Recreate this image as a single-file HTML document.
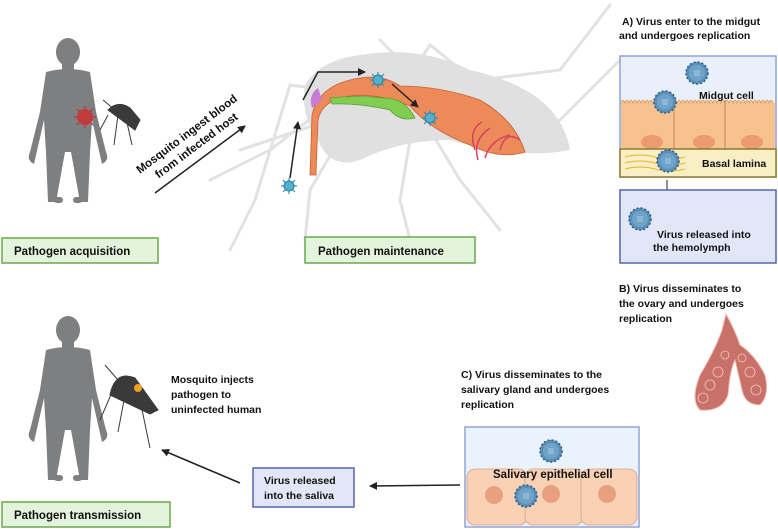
<!DOCTYPE html>
<html><head><meta charset="utf-8"><style>
html,body{margin:0;padding:0;background:#fff;}
svg{display:block;font-family:"Liberation Sans",Arial,sans-serif;font-weight:bold;}
</style></head><body>
<svg width="778" height="529" viewBox="0 0 778 529" xmlns="http://www.w3.org/2000/svg">
<defs>
<marker id="ah" markerWidth="8" markerHeight="8" refX="7" refY="4" orient="auto" markerUnits="userSpaceOnUse"><path d="M0,0 L8,4 L0,8 Z" fill="#222"/></marker>
<g id="human" fill="#7d7f80">
 <ellipse cx="0" cy="0" rx="12" ry="14"/>
 <rect x="-6" y="10" width="12" height="10"/>
 <path d="M-22,20 Q0,14 22,20 L28,60 L38,100 Q42,108 34,112 L24,68 L22,100 L20,150 L12,150 L3,100 L-3,100 L-12,150 L-20,150 L-22,100 L-24,68 L-34,112 Q-42,108 -38,100 L-28,60 Z"/>
 <rect x="-14" y="145" width="9" height="6" rx="3"/><rect x="5" y="145" width="9" height="6" rx="3"/>
</g>
<g id="vir">
 <g stroke="#3a8fb0" stroke-width="1.2">
  <line x1="-8" y1="0" x2="8" y2="0"/><line x1="0" y1="-8" x2="0" y2="8"/>
  <line x1="-6" y1="-6" x2="6" y2="6"/><line x1="-6" y1="6" x2="6" y2="-6"/>
 </g>
 <circle r="5" fill="#4fb3cf" stroke="#2e7fa0"/>
</g>
<g id="vir2">
 <circle r="11" fill="#5a8fb8" stroke="#2d5c86" stroke-width="1.5" stroke-dasharray="2 2"/>
 <circle r="8" fill="#6fa3c8"/>
 <rect x="-3" y="-3" width="6" height="6" fill="#8db7d8"/>
</g>
</defs>

<!-- big mosquito silhouette -->
<g stroke="#e2e2e2" stroke-width="3" fill="none" stroke-linecap="round">
 <path d="M330,90 L290,85 L255,200 L230,250"/>
 <path d="M335,100 L270,150 L210,180"/>
 <path d="M330,120 L240,150"/>
 <path d="M345,130 L310,190 L305,240"/>
 <path d="M390,100 L395,55 L380,40"/>
 <path d="M400,90 L430,45 L480,85"/>
 <path d="M430,130 L460,180 L500,230"/>
 <path d="M410,140 L400,200 L410,240"/>
 <path d="M480,80 L560,70 L610,5"/>
 <path d="M520,150 L560,120 L620,60"/>
</g>
<path d="M305,85 Q320,60 360,55 Q420,45 470,70 Q560,90 570,150 Q520,160 450,140 Q400,140 360,160 Q330,170 318,140 Q300,115 305,85 Z" fill="#e0e0e0"/>
<!-- gut -->
<path d="M310,175 L312,115 Q318,88 350,80 Q380,72 400,86 Q440,86 480,100 Q515,120 525,152 Q500,160 470,145 Q430,130 410,106 Q380,93 350,96 Q322,100 318,120 L316,175 Z" fill="#ed8a5a" stroke="#c86030" stroke-width="0.8"/>
<path d="M330,98 Q360,95 385,98 Q405,98 415,118 Q400,122 390,110 Q360,103 332,104 Z" fill="#82cc50" stroke="#5a9a30" stroke-width="0.8"/>
<path d="M312,108 Q308,95 318,88 L322,100 Z" fill="#c77ad8"/>
<g stroke="#d84060" stroke-width="1.5" fill="none">
 <path d="M478,160 Q472,140 490,128"/><path d="M485,158 Q490,140 510,135"/><path d="M500,150 Q505,130 520,140"/><path d="M475,150 Q468,130 482,122"/>
</g>
<use href="#vir" x="289" y="186"/>
<use href="#vir" x="378" y="80"/>
<use href="#vir" x="430" y="118"/>
<g stroke="#222" stroke-width="1.5" fill="none">
 <path d="M290,178 L298,122" marker-end="url(#ah)"/>
 <path d="M303,100 L318,72 L365,72" marker-end="url(#ah)"/>
 <path d="M392,84 L418,107" marker-end="url(#ah)"/>
 <path d="M155,193 L245,126" marker-end="url(#ah)"/>
 <path d="M667,180 L667,203" marker-end="url(#ah)" stroke-width="1"/>
 <path d="M460,485 L370,486" marker-end="url(#ah)"/>
 <path d="M240,483 L162,450" marker-end="url(#ah)"/>
</g>

<!-- humans -->
<use href="#human" x="68" y="52"/>
<use href="#human" x="68" y="330"/>
<g fill="#c03c3c"><circle cx="85" cy="117" r="8"/><g stroke="#c03c3c" stroke-width="1.5"><line x1="74" y1="117" x2="96" y2="117"/><line x1="85" y1="106" x2="85" y2="128"/><line x1="77" y1="109" x2="93" y2="125"/><line x1="77" y1="125" x2="93" y2="109"/></g></g>
<g fill="#3a3a3a" stroke="#3a3a3a">
 <path d="M108,110 Q118,100 130,108 L140,120 L135,130 Z"/>
 <path d="M108,115 L100,130 M118,115 L114,145 M126,118 L132,145 M115,110 L103,100" fill="none"/>
 <path d="M110,395 Q115,370 135,378 L158,410 L150,414 Z"/>
 <path d="M113,390 L100,420 M125,395 L118,432 M140,400 L150,448 M118,380 L105,365" fill="none"/>
</g>
<circle cx="138" cy="388" r="4" fill="#f0a020"/>

<!-- labels left -->
<text transform="translate(140,174) rotate(-37)" font-size="11.5" fill="#111"><tspan x="0" y="0">Mosquito ingest blood</tspan><tspan x="12" y="15">from infected host</tspan></text>
<text x="171" y="383" font-size="10.5" fill="#111">Mosquito injects</text>
<text x="171" y="398" font-size="10.5" fill="#111">pathogen to</text>
<text x="171" y="413" font-size="10.5" fill="#111">uninfected human</text>

<!-- green boxes -->
<g fill="#e4f3dc" stroke="#6aa84f" stroke-width="1.5">
 <rect x="2" y="238" width="156" height="25"/>
 <rect x="305" y="237" width="170" height="26"/>
 <rect x="2" y="502" width="168" height="25"/>
</g>
<g font-size="11.5" fill="#111">
 <text x="14" y="255">Pathogen acquisition</text>
 <text x="318" y="255">Pathogen maintenance</text>
 <text x="14" y="519">Pathogen transmission</text>
</g>

<!-- Panel A -->
<text x="622" y="25" font-size="10.5" fill="#111">A) Virus enter to the midgut</text>
<text x="619" y="39" font-size="10.5" fill="#111">and undergoes replication</text>
<rect x="620" y="56" width="156" height="121" fill="#eaf0fa" stroke="#8fa4d4" stroke-width="1.5"/>
<rect x="621" y="103" width="154" height="46" fill="#f8c290"/>
<path d="M621,103 q2,-6 4,0 q2,-6 4,0 q2,-6 4,0 q2,-6 4,0 q2,-6 4,0 q2,-6 4,0 q2,-6 4,0 q2,-6 4,0 q2,-6 4,0 q2,-6 4,0 q2,-6 4,0 q2,-6 4,0 q2,-6 4,0 q2,-6 4,0 q2,-6 4,0 q2,-6 4,0 q2,-6 4,0 q2,-6 4,0 q2,-6 4,0 q2,-6 4,0 q2,-6 4,0 q2,-6 4,0 q2,-6 4,0 q2,-6 4,0 q2,-6 4,0 q2,-6 4,0 q2,-6 4,0 q2,-6 4,0 q2,-6 4,0 q2,-6 4,0 q2,-6 4,0 q2,-6 4,0 q2,-6 4,0 q2,-6 4,0 q2,-6 4,0 q2,-6 4,0 q2,-6 4,0 q2,-6 4,0" fill="#f8c290" stroke="#c88a50" stroke-width="0.6"/>
<g stroke="#a07040" stroke-width="0.7"><line x1="674" y1="100" x2="674" y2="149"/><line x1="725" y1="100" x2="725" y2="149"/></g>
<g fill="#ec9a70"><ellipse cx="652" cy="142" rx="11" ry="7"/><ellipse cx="704" cy="142" rx="11" ry="7"/><ellipse cx="752" cy="142" rx="11" ry="7"/></g>
<rect x="620" y="149" width="156" height="28" fill="#f8efc6" stroke="#8a7a30" stroke-width="1.5"/>
<g stroke="#f0b020" stroke-width="1" fill="none"><path d="M625,157 q15,-4 30,0 t30,0"/><path d="M625,163 q15,-4 30,0 t30,0"/><path d="M625,169 q15,-4 30,0 t30,0"/></g>
<text x="699" y="99" font-size="10.5" fill="#111">Midgut cell</text>
<text x="702" y="167" font-size="10.5" fill="#111">Basal lamina</text>
<use href="#vir2" x="697" y="73"/>
<use href="#vir2" x="665" y="102"/>
<use href="#vir2" x="668" y="161"/>
<rect x="620" y="190" width="156" height="73" fill="#e2e7f8" stroke="#5566aa" stroke-width="1.5"/>
<use href="#vir2" x="640" y="219"/>
<text x="657" y="238" font-size="10.5" fill="#111">Virus released into</text>
<text x="653" y="251" font-size="10.5" fill="#111">the hemolymph</text>

<!-- Panel B -->
<text x="619" y="292" font-size="10.5" fill="#111">B) Virus disseminates to</text>
<text x="619" y="307" font-size="10.5" fill="#111">the ovary and undergoes</text>
<text x="619" y="322" font-size="10.5" fill="#111">replication</text>
<path d="M726,314 Q735,330 740,345 Q755,355 765,375 Q770,395 760,405 Q745,405 742,390 L735,360 Q730,370 728,395 Q722,412 700,410 Q690,400 700,375 Q715,350 722,330 Z" fill="#c8706a" stroke="#f0c0b0" stroke-width="1"/>
<g fill="none" stroke="#f2c6b8" stroke-width="0.8"><circle cx="710" cy="385" r="5"/><circle cx="718" cy="372" r="5"/><circle cx="703" cy="398" r="5"/><circle cx="750" cy="372" r="5"/><circle cx="756" cy="390" r="5"/><circle cx="742" cy="358" r="4"/><circle cx="725" cy="355" r="4"/></g>

<!-- Panel C -->
<text x="461" y="378" font-size="10.5" fill="#111">C) Virus disseminates to the</text>
<text x="461" y="393" font-size="10.5" fill="#111">salivary gland and undergoes</text>
<text x="461" y="408" font-size="10.5" fill="#111">replication</text>
<rect x="465" y="427" width="174" height="100" fill="#eaf2fc" stroke="#8fa4d4" stroke-width="1.5"/>
<g fill="#f9d2b6" stroke="#d8a080" stroke-width="0.8">
 <rect x="467" y="469" width="60" height="56" rx="8"/>
 <rect x="525" y="469" width="58" height="56" rx="8"/>
 <rect x="581" y="469" width="56" height="56" rx="8"/>
</g>
<g fill="#e8a080"><circle cx="494" cy="495" r="9"/><circle cx="551" cy="494" r="9"/><circle cx="607" cy="494" r="9"/></g>
<use href="#vir2" x="551" y="451"/>
<use href="#vir2" x="526" y="496"/>
<text x="493" y="478" font-size="11.5" fill="#111">Salivary epithelial cell</text>

<!-- saliva box -->
<rect x="253" y="468" width="101" height="39" fill="#e2e7f8" stroke="#5566aa" stroke-width="1.5"/>
<text x="264" y="484" font-size="10.5" fill="#111">Virus released</text>
<text x="264" y="499" font-size="10.5" fill="#111">into the saliva</text>
</svg>
</body></html>
